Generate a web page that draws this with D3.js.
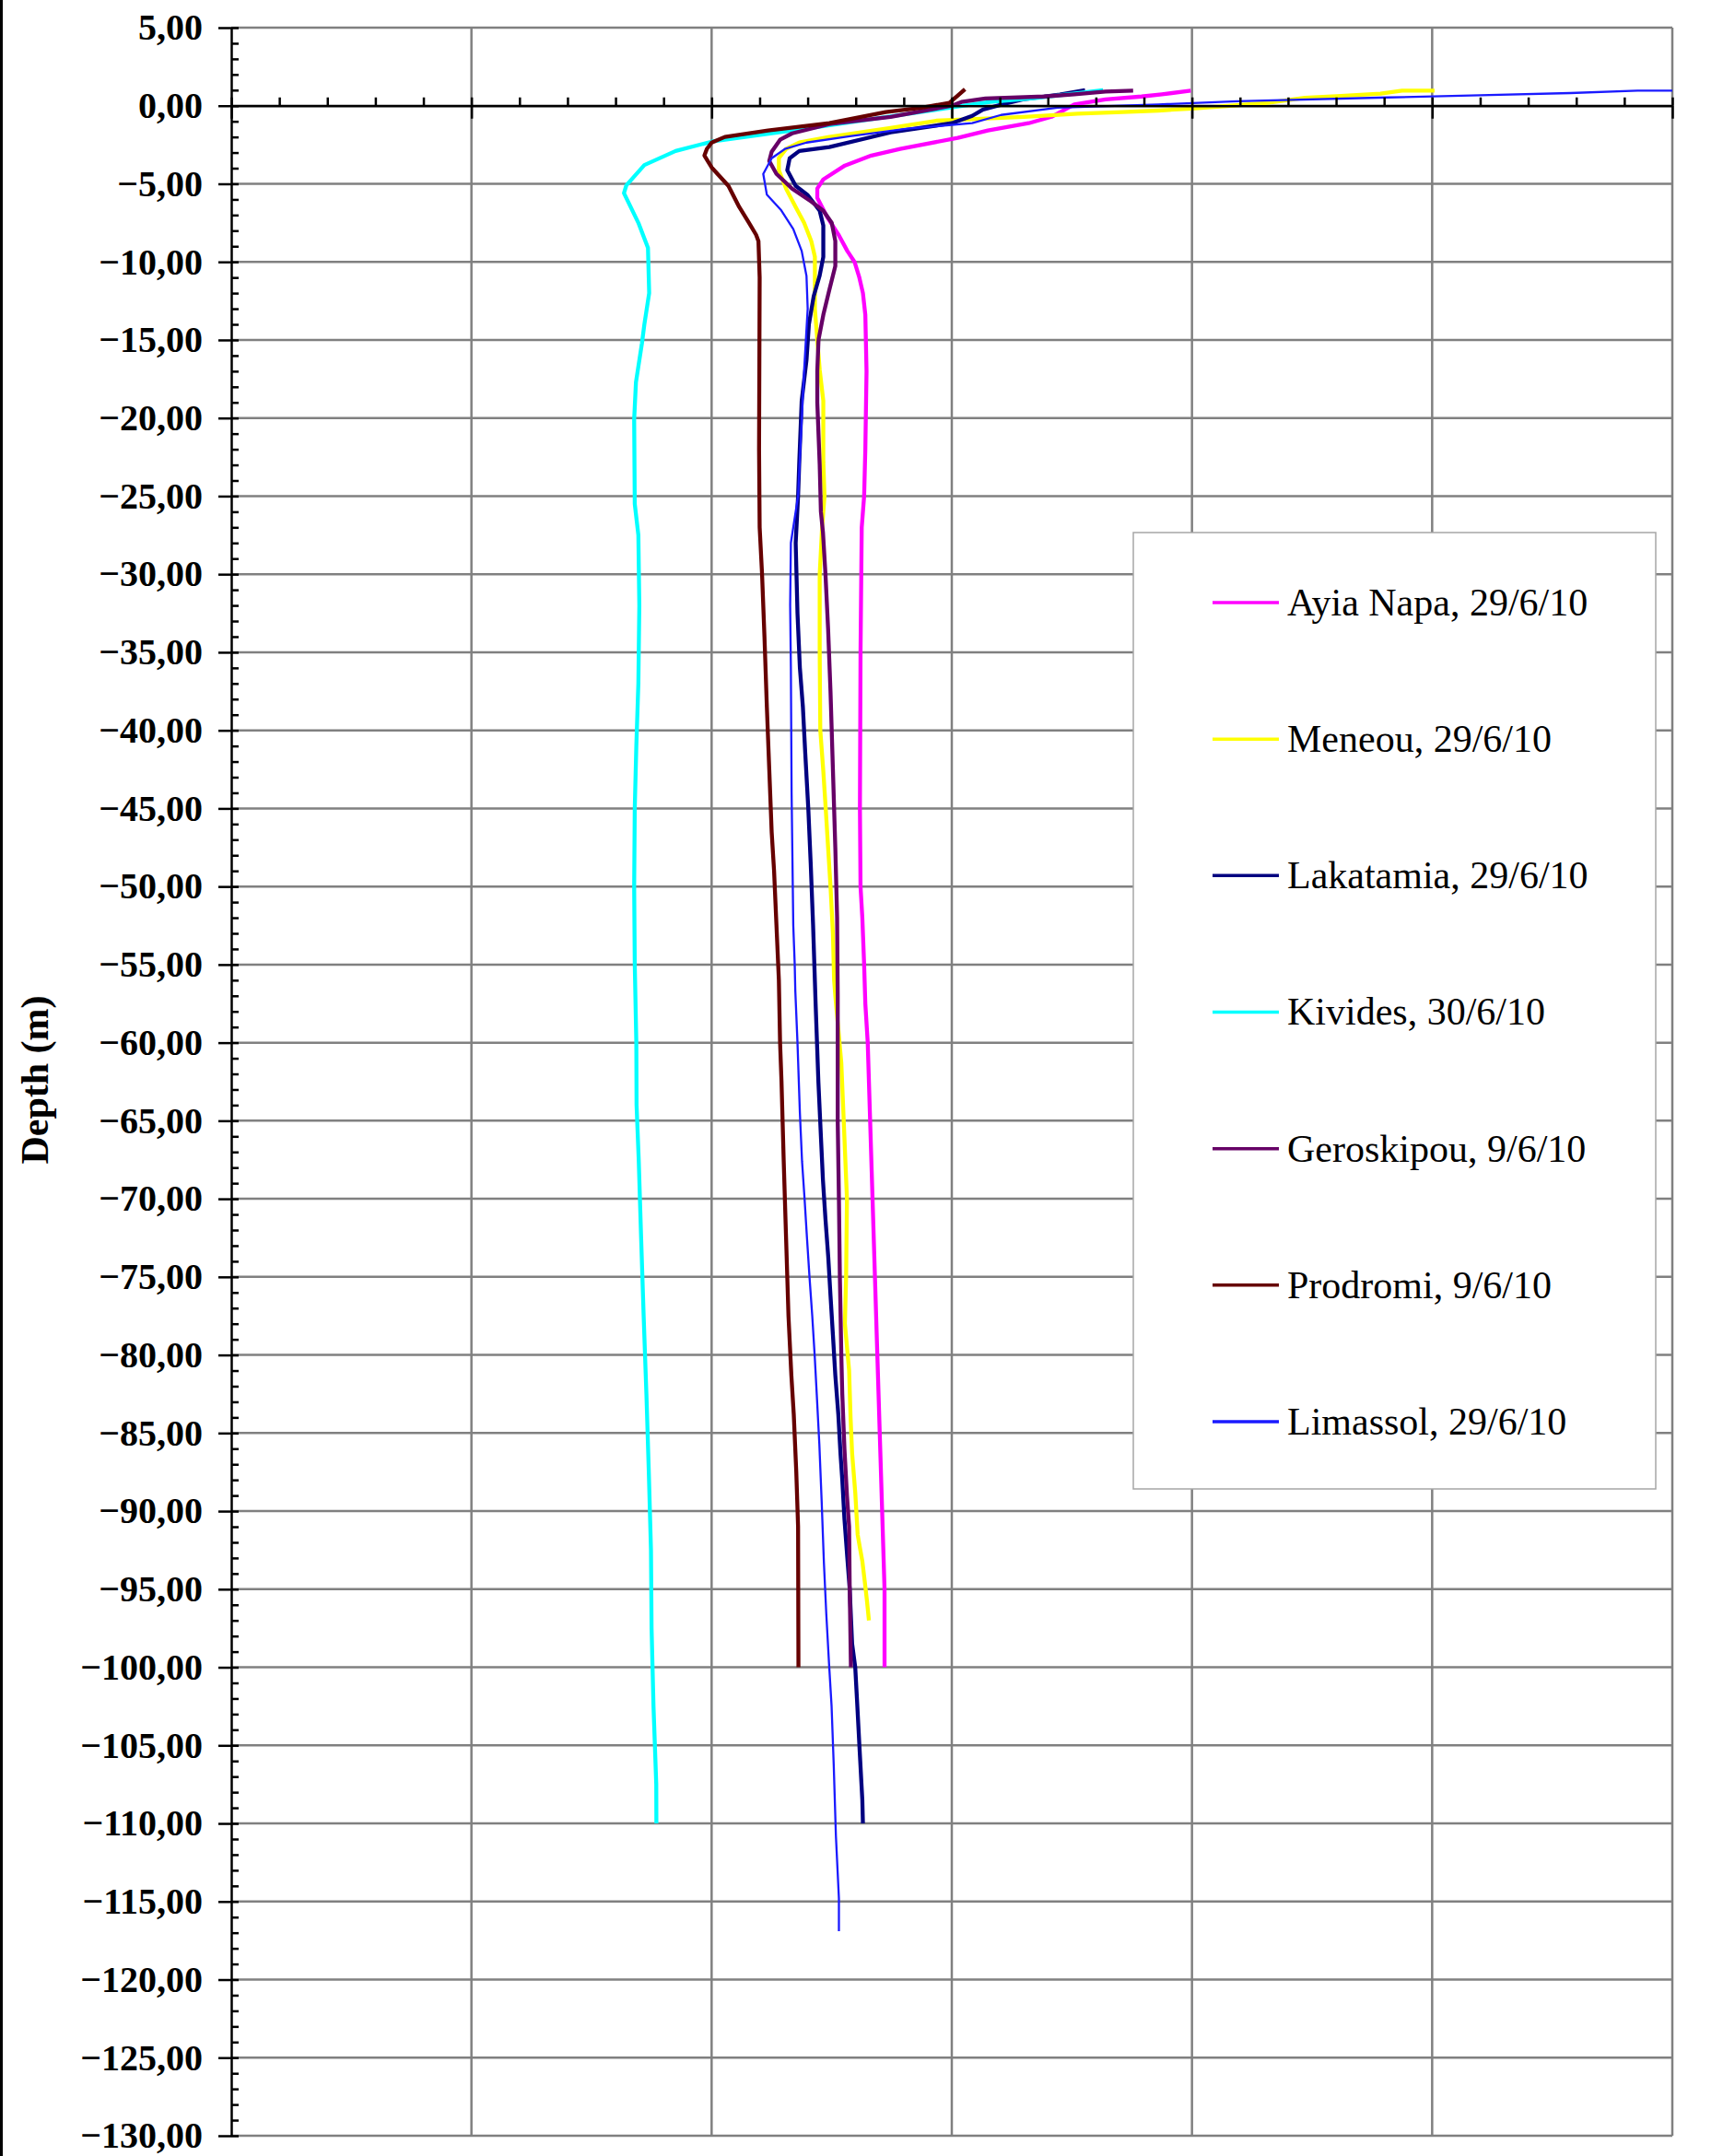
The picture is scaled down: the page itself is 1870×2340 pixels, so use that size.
<!DOCTYPE html>
<html><head><meta charset="utf-8">
<script src="https://cdn.jsdelivr.net/npm/d3@7"></script>
<style>html,body{margin:0;padding:0;background:#fff;} svg{display:block;}</style>
</head><body>
<svg id="chart" width="1870" height="2340"></svg>
<script>
// ---- data: [depth (m), temperature] ----
const seriesNames = ["Ayia Napa, 29/6/10","Meneou, 29/6/10","Lakatamia, 29/6/10","Kivides, 30/6/10","Geroskipou, 9/6/10","Prodromi, 9/6/10","Limassol, 29/6/10"];

const ayiaNapa = [[0.96,25.99],[0.73,25.75],[0.59,25.58],[0.41,25.28],[0.08,25.02],[-0.71,24.83],[-1.12,24.64],[-1.59,24.30],[-2.06,24.05],[-2.77,23.57],[-3.19,23.33],[-3.83,23.11],[-4.72,22.93],[-5.3,22.88],[-5.9,22.88],[-7.1,22.96],[-8.3,23.06],[-9.3,23.13],[-10,23.19],[-11,23.23],[-12,23.26],[-13.4,23.28],[-17,23.29],[-22,23.28],[-25,23.27],[-27,23.25],[-35,23.24],[-45,23.235],[-50,23.24],[-52,23.255],[-55,23.27],[-57.5,23.28],[-60,23.30],[-65,23.32],[-70,23.34],[-75,23.36],[-80,23.38],[-85,23.40],[-90,23.42],[-95,23.44],[-100,23.44]];

const meneou = [[0.96,28.02],[0.96,27.75],[0.77,27.57],[0.63,27.24],[0.51,26.94],[0.18,26.63],[0,26.32],[-0.18,26.0],[-0.31,25.72],[-0.41,25.42],[-0.51,25.05],[-0.71,24.6],[-0.85,24.2],[-0.96,23.87],[-1.42,23.49],[-2.0,22.98],[-2.36,22.73],[-2.77,22.62],[-3.36,22.56],[-4.13,22.56],[-5.31,22.62],[-6.49,22.70],[-7.49,22.77],[-8.67,22.83],[-9.68,22.86],[-11,22.86],[-13,22.86],[-15,22.88],[-16.9,22.90],[-18.9,22.93],[-22.8,22.93],[-25,22.94],[-27,22.92],[-30,22.90],[-35,22.90],[-40,22.905],[-42.6,22.93],[-45,22.95],[-47.5,22.97],[-50,22.99],[-53,23.01],[-56,23.02],[-57,23.03],[-61.3,23.08],[-65,23.10],[-70,23.127],[-75,23.12],[-78,23.11],[-81,23.145],[-84,23.157],[-86.3,23.17],[-88.8,23.196],[-91.5,23.216],[-92.3,23.234],[-93.2,23.255],[-94.5,23.275],[-95.7,23.293],[-97,23.31]];

const lakatamia = [[1.0,25.11],[0.71,24.90],[0.41,24.59],[0.12,24.44],[-0.24,24.26],[-0.65,24.17],[-1.12,24.0],[-1.71,23.49],[-2.65,22.98],[-2.9,22.73],[-3.36,22.65],[-4.13,22.63],[-5.13,22.70],[-5.72,22.80],[-6.73,22.90],[-7.67,22.93],[-9.68,22.93],[-10.86,22.90],[-12.2,22.85],[-14,22.81],[-16.3,22.79],[-18.9,22.75],[-22.8,22.73],[-25,22.72],[-28,22.70],[-32.5,22.715],[-36,22.735],[-38.5,22.76],[-41.5,22.78],[-45,22.805],[-48.5,22.825],[-52.5,22.845],[-57.5,22.866],[-62.5,22.889],[-66,22.91],[-68.8,22.927],[-71.3,22.948],[-73.7,22.971],[-76.2,22.99],[-78.7,23.01],[-81.3,23.03],[-83.8,23.055],[-86.3,23.073],[-88,23.088],[-90.5,23.106],[-93,23.13],[-95,23.15],[-98.5,23.17],[-100,23.196],[-102,23.21],[-105.5,23.234],[-108.5,23.255],[-110,23.26]];

const kivides = [[1.0,25.26],[0.5,24.7],[0.24,24.32],[0,24.1],[-1.36,22.88],[-2.3,22.0],[-2.9,21.7],[-3.8,21.44],[-5.1,21.29],[-5.6,21.27],[-7.5,21.39],[-9.1,21.47],[-12,21.48],[-14,21.44],[-15.2,21.42],[-17.7,21.37],[-20.1,21.355],[-25.5,21.36],[-27.5,21.39],[-32,21.398],[-37,21.39],[-41,21.373],[-45,21.36],[-50,21.355],[-55,21.36],[-60,21.373],[-64,21.375],[-67.5,21.393],[-72.5,21.413],[-77.5,21.434],[-82.5,21.457],[-87.5,21.477],[-92.5,21.495],[-97.5,21.5],[-102.5,21.516],[-107.5,21.539],[-110,21.54]];

const geroskipou = [[0.96,25.51],[0.91,25.28],[0.73,25.02],[0.59,24.77],[0.47,24.28],[0.24,24.08],[0,24.0],[-0.71,23.49],[-1.18,22.98],[-1.77,22.67],[-2.18,22.57],[-2.95,22.50],[-3.54,22.48],[-4.37,22.54],[-5.31,22.67],[-6.14,22.83],[-6.73,22.93],[-7.49,23.0],[-8.67,23.03],[-10.27,23.03],[-11.8,22.98],[-13.4,22.93],[-15,22.89],[-17,22.88],[-19,22.88],[-23,22.90],[-26,22.91],[-27.3,22.927],[-30,22.948],[-33.5,22.97],[-37.5,22.99],[-42.5,23.01],[-47.5,23.03],[-52,23.045],[-57,23.05],[-65,23.05],[-70,23.06],[-75,23.068],[-80,23.08],[-82.5,23.088],[-86,23.106],[-89,23.127],[-91,23.145],[-95,23.15],[-100,23.16]];

const prodromi = [[1.06,24.11],[0.18,23.98],[-0.12,23.75],[-0.41,23.45],[-1.12,22.98],[-1.59,22.47],[-2.0,22.11],[-2.36,22.0],[-2.77,21.96],[-3.19,21.94],[-3.95,22.0],[-5.13,22.14],[-6.49,22.23],[-7.49,22.31],[-8.26,22.37],[-8.67,22.39],[-11,22.40],[-22,22.395],[-27,22.40],[-30,22.42],[-34,22.44],[-38.5,22.46],[-42.5,22.48],[-46.5,22.50],[-49,22.52],[-52.5,22.54],[-56,22.56],[-60,22.57],[-62.5,22.582],[-67.5,22.60],[-72.5,22.62],[-77.5,22.64],[-81.3,22.664],[-83.8,22.684],[-87.5,22.705],[-91,22.72],[-100,22.723]];

const limassol = [[0.96,30.0],[0.96,29.71],[0.81,29.15],[0.67,28.40],[0.53,27.63],[0.29,26.38],[0.08,25.72],[-0.12,24.88],[-0.59,24.41],[-1.12,24.17],[-1.47,23.63],[-1.95,23.15],[-2.36,22.79],[-2.77,22.61],[-3.36,22.50],[-4.37,22.43],[-5.7,22.46],[-6.7,22.58],[-7.9,22.68],[-9.3,22.75],[-10.9,22.79],[-13,22.80],[-17,22.77],[-21,22.745],[-25,22.72],[-28,22.66],[-32,22.654],[-36,22.66],[-44,22.666],[-52.5,22.68],[-55,22.692],[-56.7,22.697],[-60,22.715],[-64.5,22.735],[-67.6,22.753],[-70,22.774],[-72.5,22.794],[-75,22.815],[-77.5,22.838],[-80,22.858],[-82.6,22.876],[-85.7,22.897],[-89.5,22.917],[-93.3,22.935],[-96.6,22.955],[-99.8,22.978],[-102.5,22.999],[-106.3,23.017],[-110.8,23.035],[-114.8,23.06],[-116.9,23.06]];

const seriesData = [ayiaNapa, meneou, lakatamia, kivides, geroskipou, prodromi, limassol];
const yTickValues = d3.range(5, -130.5, -5);
const yMinorValues = d3.range(5, -130.5, -1);
const xGridValues = d3.range(18, 30.5, 2);
const xMinorValues = d3.range(18, 30.05, 0.4);

// ---- styles ----
const colors = ["#ff00ff","#ffff00","#000080","#00ffff","#660066","#660000","#1a1aff"];
const widths = [4.3,4.3,4.3,4.3,4.3,4.3,2.3];

const svg = d3.select("#chart");
const P = {left:251, right:1815, top:30, bottom:2318};
const x = d3.scaleLinear().domain([18,30]).range([P.left, P.right]);
const y = d3.scaleLinear().domain([5,-130]).range([P.top, P.bottom]);

// left frame line
svg.append("rect").attr("x",0).attr("y",0).attr("width",3).attr("height",2340).attr("fill","#000");

// grid
const grid = svg.append("g").attr("stroke","#808080").attr("stroke-width",2.5);
grid.selectAll("line.h").data(yTickValues).join("line").attr("class","h")
  .attr("x1",P.left).attr("x2",P.right).attr("y1",d=>y(d)).attr("y2",d=>y(d));
grid.selectAll("line.v").data(xGridValues.filter(d=>d>18)).join("line").attr("class","v")
  .attr("y1",P.top).attr("y2",P.bottom).attr("x1",d=>x(d)).attr("x2",d=>x(d));

// series
const line = d3.line().x(p=>x(p[1])).y(p=>y(p[0]));
svg.append("g").selectAll("path").data(seriesData).join("path")
  .attr("d",line).attr("fill","none")
  .attr("stroke",(d,i)=>colors[i]).attr("stroke-width",(d,i)=>widths[i])
  .attr("stroke-linejoin","round");

// y axis
const fmt = d => (d<0?"\u2212":"") + Math.abs(d).toFixed(2).replace(".",",");
const yAxis = svg.append("g").attr("transform",`translate(${P.left},0)`)
  .call(d3.axisLeft(y).tickValues(yTickValues).tickSize(14).tickSizeOuter(0).tickPadding(17).tickFormat(fmt));
yAxis.select(".domain").attr("stroke","#000").attr("stroke-width",2.5);
yAxis.selectAll(".tick line").attr("stroke","#000").attr("stroke-width",2.5);
yAxis.selectAll("text").attr("font-family","'Liberation Serif', 'Times New Roman', serif")
  .attr("font-size",40).attr("font-weight","bold").attr("fill","#000");
const yMinor = svg.append("g").attr("transform",`translate(${P.left},0)`)
  .call(d3.axisRight(y).tickValues(yMinorValues).tickSize(8).tickSizeOuter(0).tickFormat(""));
yMinor.select(".domain").remove();
yMinor.selectAll(".tick line").attr("stroke","#000").attr("stroke-width",2.5);

// x axis at depth 0
const xAxis = svg.append("g").attr("transform",`translate(0,${y(0)})`)
  .call(d3.axisBottom(x).tickValues(xGridValues).tickSize(14).tickSizeOuter(0).tickFormat(""));
xAxis.select(".domain").attr("stroke","#000").attr("stroke-width",2.5);
xAxis.selectAll(".tick line").attr("stroke","#000").attr("stroke-width",2.5);
const xMinor = svg.append("g").attr("transform",`translate(0,${y(0)})`)
  .call(d3.axisTop(x).tickValues(xMinorValues).tickSize(9).tickSizeOuter(0).tickFormat(""));
xMinor.select(".domain").remove();
xMinor.selectAll(".tick line").attr("stroke","#000").attr("stroke-width",2.5);

// y title
svg.append("text").attr("transform","translate(52,1172) rotate(-90)")
  .attr("text-anchor","middle").attr("font-family","'Liberation Serif', 'Times New Roman', serif")
  .attr("font-size",42).attr("font-weight","bold").text("Depth (m)");

// legend
const L = {x:1230, y:578, w:567, h:1038};
svg.append("rect").attr("x",L.x).attr("y",L.y).attr("width",L.w).attr("height",L.h)
  .attr("fill","#fff").attr("stroke","#a6a6a6").attr("stroke-width",1.5);
const ly = d3.scalePoint().domain(seriesNames).range([654,1543]);
const leg = svg.append("g").selectAll("g").data(seriesNames).join("g")
  .attr("transform",d=>`translate(0,${ly(d)})`);
leg.append("line").attr("x1",1316).attr("x2",1388).attr("y1",0).attr("y2",0)
  .attr("stroke",(d,i)=>colors[i]).attr("stroke-width",3.5);
leg.append("text").attr("x",1397).attr("y",0).attr("dy","0.33em")
  .attr("font-family","'Liberation Serif', 'Times New Roman', serif").attr("font-size",42)
  .attr("fill","#000").text(d=>d);
</script>
</body></html>
